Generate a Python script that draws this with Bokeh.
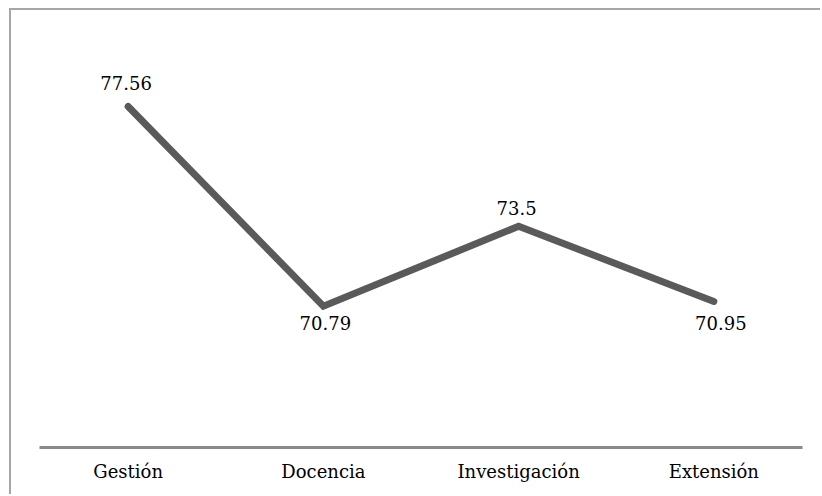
from bokeh.plotting import figure
from bokeh.models import ColumnDataSource, FactorRange, Range1d
from bokeh.core.properties import value
from bokeh.embed import file_html
from bokeh.resources import INLINE

categories = ["Gestión", "Docencia", "Investigación", "Extensión"]
scores = [77.56, 70.79, 73.5, 70.95]
score_labels = ["77.56", "70.79", "73.5", "70.95"]

# label placement (pixels) relative to each point
lbl_dx = [-2, 2, -2, 7]
lbl_dy = [-23, 17, -18, 22]

FONT = "DejaVu Serif"

src = ColumnDataSource(dict(x=categories, y=scores, t=score_labels, dx=lbl_dx, dy=lbl_dy))

p = figure(
    width=811, height=486,
    x_range=FactorRange(factors=categories, range_padding=-0.023),
    y_range=Range1d(66, 80),
    output_backend="svg", toolbar_location=None,
    min_border_left=28, min_border_right=20, min_border_top=24, min_border_bottom=49,
)
p.styles = {"border-top": "2px solid #a6a6a6", "border-left": "2px solid #a6a6a6",
            "margin-top": "8px", "margin-left": "9px"}
p.outline_line_color = None
p.grid.visible = False
p.yaxis.visible = False
p.background_fill_color = "white"
p.border_fill_color = "white"

ax = p.xaxis[0]
ax.axis_line_color = "#8a8a8a"
ax.axis_line_width = 3
ax.major_tick_line_color = None
ax.minor_tick_line_color = None
ax.major_label_text_font = FONT
ax.major_label_text_font_size = "18px"
ax.major_label_text_color = "#000000"
ax.major_label_standoff = 7
ax.group_text_font_size = "0px"

p.line("x", "y", source=src, line_color="#5a5a5a", line_width=7,
       line_cap="round", line_join="miter")

p.text("x", "y", text="t", source=src, x_offset="dx", y_offset="dy",
       text_font=value(FONT), text_font_size="18px",
       text_color="#000000", text_align="center", text_baseline="middle")

open("out.html", "w").write(file_html(p, INLINE))
